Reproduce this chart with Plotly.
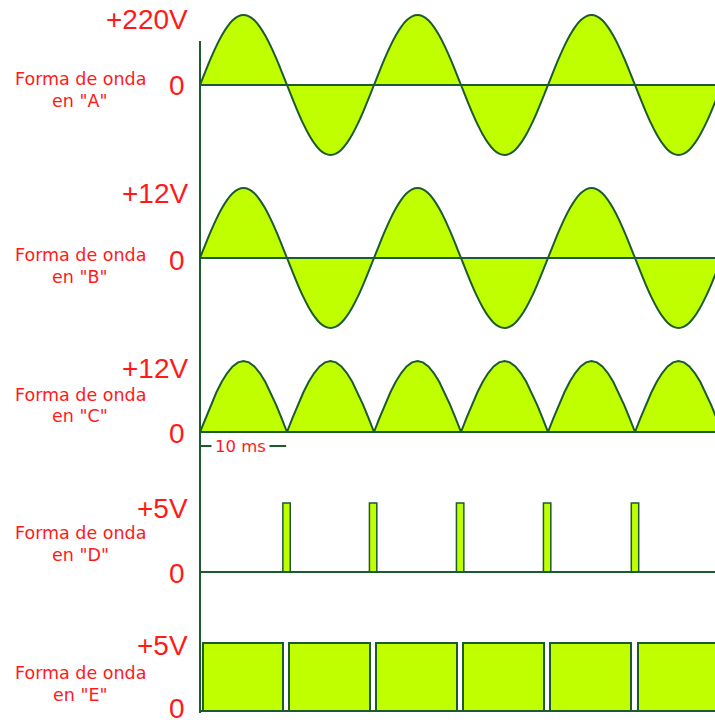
import plotly.graph_objects as go

# ---------------- data ----------------
# one half-cycle of the mains waveform, normalised (16 samples, closing 0 appended)
HALF_SHAPE = [0.0, 0.195, 0.383, 0.556, 0.707, 0.831, 0.924, 0.981, 1.0,
              0.981, 0.924, 0.831, 0.707, 0.556, 0.383, 0.195]
HALF_PERIOD_MS = 10

amp_A = 220     # V, waveform A (mains)
amp_B = 12      # V, waveform B (transformer secondary)
amp_C = 12      # V, waveform C (full-wave rectified)
amp_D = 5       # V, pulses D
amp_E = 5       # V, square wave E

signs_AB = [1, -1, 1, -1, 1, -1]   # polarity of each half-cycle (A, B)
signs_C = [1, 1, 1, 1, 1, 1]       # rectified: all positive

pulse_centers_D = [9.95, 19.9, 29.9, 39.9, 50.0]   # ms
pulse_width_D = 0.85                                # ms

E_starts = [0.34, 10.23, 20.23, 30.23, 40.23, 50.34]  # ms
E_ends = [9.54, 19.54, 29.54, 39.54, 49.54, 60.0]     # ms

labels_top = ["+220V", "+12V", "+12V", "+5V", "+5V"]
labels_name = ['en "A"', 'en "B"', 'en "C"', 'en "D"', 'en "E"']

# ---------------- styling / layout ----------------
W, H = 715, 722
LEFT = 200
PX_PER_MS = 8.7
RED = "#ff1a1a"
LIME = "#bfff00"
DARK = "#1d5a2e"


def build(amp, signs):
    t, v = [], []
    n = len(HALF_SHAPE)
    for i, s in enumerate(signs):
        for k, f in enumerate(HALF_SHAPE):
            t.append(i * HALF_PERIOD_MS + k * HALF_PERIOD_MS / n)
            v.append(s * amp * f)
    t.append(len(signs) * HALF_PERIOD_MS)
    v.append(0.0)
    return t, v


def py(p):
    return 1 - p / H


def px(p):
    return (p - LEFT) / (W - LEFT)


# rows: zero_px, amp_px, amp value, top_px, bottom_px
rows = [
    (85, 70, amp_A, 8, 170),
    (258, 70, amp_B, 175, 345),
    (432, 71, amp_C, 350, 445),
    (572, 69, amp_D, 490, 590),
    (711, 68, amp_E, 625, 722),
]

fig = go.Figure()

tA, vA = build(amp_A, signs_AB)
tB, vB = build(amp_B, signs_AB)
tC, vC = build(amp_C, signs_C)

fig.add_trace(go.Scatter(x=tA, y=vA, mode="lines", line=dict(color=DARK, width=2, shape="spline"),
                         fill="tozeroy", fillcolor=LIME, xaxis="x", yaxis="y"))
fig.add_trace(go.Scatter(x=tB, y=vB, mode="lines", line=dict(color=DARK, width=2, shape="spline"),
                         fill="tozeroy", fillcolor=LIME, xaxis="x", yaxis="y2"))
fig.add_trace(go.Scatter(x=tC, y=vC, mode="lines", line=dict(color=DARK, width=2),
                         fill="tozeroy", fillcolor=LIME, xaxis="x", yaxis="y3"))
fig.add_trace(go.Bar(x=pulse_centers_D, y=[amp_D] * len(pulse_centers_D),
                     width=[pulse_width_D] * len(pulse_centers_D),
                     marker=dict(color=LIME, line=dict(color=DARK, width=1.5)),
                     xaxis="x", yaxis="y4"))
fig.add_trace(go.Bar(x=[(s + e) / 2 for s, e in zip(E_starts, E_ends)],
                     y=[amp_E] * len(E_starts),
                     width=[e - s for s, e in zip(E_starts, E_ends)],
                     marker=dict(color=LIME, line=dict(color=DARK, width=2)),
                     xaxis="x", yaxis="y5"))

layout = dict(
    width=W, height=H,
    margin=dict(l=LEFT, r=0, t=0, b=0),
    paper_bgcolor="white", plot_bgcolor="rgba(0,0,0,0)",
    showlegend=False, barmode="overlay",
    xaxis=dict(range=[0, (W - LEFT) / PX_PER_MS], visible=False, fixedrange=True),
)

shapes = []
annotations = []
for i, (z, a_px, a_val, top, bot) in enumerate(rows):
    scale = a_val / a_px
    name = "yaxis" if i == 0 else f"yaxis{i + 1}"
    ref = "y" if i == 0 else f"y{i + 1}"
    layout[name] = dict(domain=[max(0, py(bot)), min(1, py(top))],
                        range=[-(bot - z) * scale, (z - top) * scale],
                        visible=False, fixedrange=True, anchor="x")
    # zero / base line
    shapes.append(dict(type="line", xref="x domain", yref=ref, x0=0, x1=1, y0=0, y1=0,
                       line=dict(color=DARK, width=2), layer="above"))

# label positions (px)
top_label_y = [20, 193, 368, 508, 645]
zero_label_y = [86, 260, 433, 573, 708]
name1_y = [79, 255, 395, 533, 673]
name2_y = [101, 277, 416, 555, 695]

for i in range(5):
    annotations.append(dict(text=labels_top[i], xref="paper", yref="paper",
                            x=px(190), y=py(top_label_y[i]), xanchor="right", yanchor="middle",
                            showarrow=False, font=dict(family="Liberation Sans, Arial", size=28, color=RED)))
    annotations.append(dict(text="0", xref="paper", yref="paper",
                            x=px(187), y=py(zero_label_y[i]), xanchor="right", yanchor="middle",
                            showarrow=False, font=dict(family="Liberation Sans, Arial", size=28, color=RED)))
    annotations.append(dict(text="Forma de onda", xref="paper", yref="paper",
                            x=px(80), y=py(name1_y[i]), xanchor="center", yanchor="middle",
                            showarrow=False, font=dict(family="DejaVu Sans", size=17.5, color=RED)))
    annotations.append(dict(text=labels_name[i], xref="paper", yref="paper",
                            x=px(80), y=py(name2_y[i]), xanchor="center", yanchor="middle",
                            showarrow=False, font=dict(family="DejaVu Sans", size=17.5, color=RED)))

# vertical axis line
shapes.append(dict(type="line", xref="paper", yref="paper", x0=0, x1=0,
                   y0=py(41), y1=py(713), line=dict(color=DARK, width=2), layer="above"))
# 10 ms scale bar
shapes.append(dict(type="line", xref="x", yref="paper", x0=0, x1=HALF_PERIOD_MS - 0.1,
                   y0=py(446), y1=py(446), line=dict(color=DARK, width=2), layer="above"))
annotations.append(dict(text="10 ms", xref="x", yref="paper", x=4.6, y=py(446),
                        xanchor="center", yanchor="middle", showarrow=False,
                        bgcolor="white", borderpad=3,
                        font=dict(family="DejaVu Sans", size=16.5, color=RED)))

layout["shapes"] = shapes
layout["annotations"] = annotations
fig.update_layout(**layout)

fig.write_html(
    "out.html",
    config={"displayModeBar": False},
    post_script="document.body.style.margin='0';document.body.style.overflow='hidden';",
)
